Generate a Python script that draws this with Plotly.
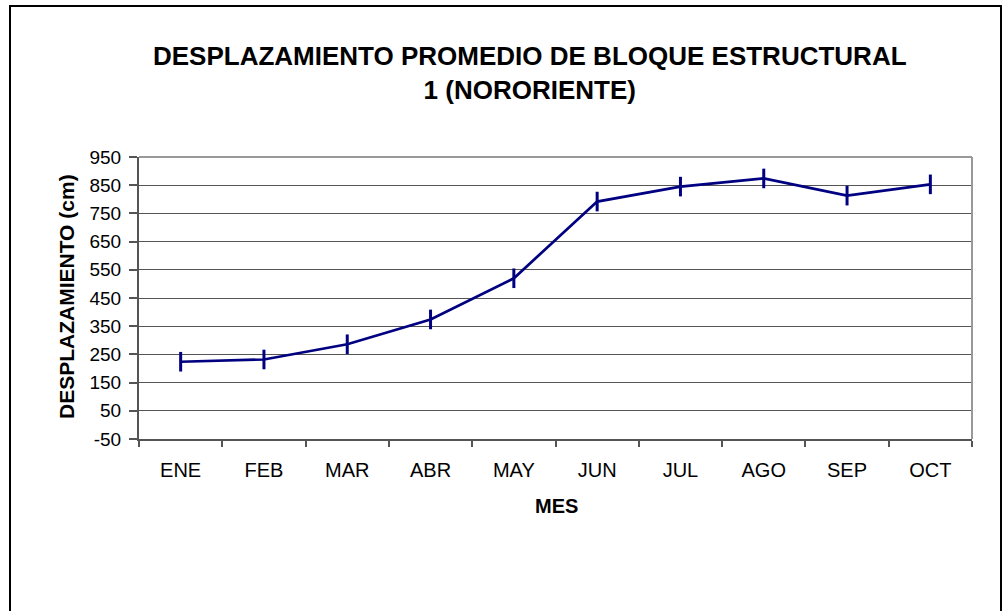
import plotly.graph_objects as go

meses = ["ENE", "FEB", "MAR", "ABR", "MAY", "JUN", "JUL", "AGO", "SEP", "OCT"]
desplazamiento = [224, 232, 286, 374, 520, 792, 845, 874, 813, 853]
y_ticks = [-50, 50, 150, 250, 350, 450, 550, 650, 750, 850, 950]

W, H = 1005, 611
L, R, T, B = 139, 33, 157, 172
pw, ph = W - L - R, H - T - B

def px_x(x):
    return (x - L) / pw

def px_y(y):
    return (H - B - y) / ph

FONT = "Liberation Sans, Arial, sans-serif"

fig = go.Figure()
fig.add_trace(go.Scatter(
    x=meses, y=desplazamiento, mode="lines+markers",
    line=dict(color="#000080", width=2.7),
    marker=dict(symbol="line-ns", size=14, line=dict(color="#000080", width=3)),
    showlegend=False, cliponaxis=False,
))

fig.update_layout(
    width=W, height=H,
    margin=dict(l=L, r=R, t=T, b=B),
    paper_bgcolor="white", plot_bgcolor="white",
    font=dict(family=FONT, color="black"),
    xaxis=dict(
        type="category", range=[-0.5, 9.5], tickson="boundaries",
        ticks="outside", ticklen=6, tickcolor="#555", tickwidth=1.5,
        showgrid=False, zeroline=False,
        showline=True, linecolor="#555", linewidth=2,
        tickfont=dict(size=20, family=FONT, color="black"),
        ticklabelstandoff=12,
    ),
    yaxis=dict(
        range=[-50, 950], tickvals=y_ticks, ticktext=[str(v) for v in y_ticks],
        ticks="outside", ticklen=8, tickcolor="#555", tickwidth=1.5,
        showgrid=True, gridcolor="#555", gridwidth=1,
        zeroline=False, showline=True, linecolor="#555", linewidth=2,
        tickfont=dict(size=19, family=FONT, color="black"),
        ticklabelstandoff=4,
    ),
    annotations=[
        dict(text="<b>DESPLAZAMIENTO PROMEDIO DE BLOQUE ESTRUCTURAL<br>1 (NORORIENTE)</b>",
             x=px_x(530), y=px_y(73), xref="paper", yref="paper",
             showarrow=False, font=dict(size=26, family=FONT, color="black"),
             xanchor="center", yanchor="middle"),
        dict(text="<b>MES</b>", x=px_x(556), y=px_y(506), xref="paper", yref="paper",
             showarrow=False, font=dict(size=20, family=FONT, color="black"),
             xanchor="center", yanchor="middle"),
        dict(text="<b>DESPLAZAMIENTO (cm)</b>", x=px_x(66), y=px_y(297), xref="paper", yref="paper",
             showarrow=False, textangle=-90, font=dict(size=21, family=FONT, color="black"),
             xanchor="center", yanchor="middle"),
    ],
    shapes=[
        dict(type="line", xref="paper", yref="paper", x0=0, x1=1, y0=1, y1=1,
             line=dict(color="#999", width=2)),
        dict(type="line", xref="paper", yref="paper", x0=1, x1=1, y0=0, y1=1,
             line=dict(color="#999", width=2)),
        dict(type="rect", xref="paper", yref="paper",
             x0=px_x(10), x1=px_x(1001), y0=px_y(640), y1=px_y(6),
             line=dict(color="black", width=2), layer="below"),
    ],
)

fig.write_html("out.html", config={"displayModeBar": False},
               post_script="document.body.style.margin='0';")
